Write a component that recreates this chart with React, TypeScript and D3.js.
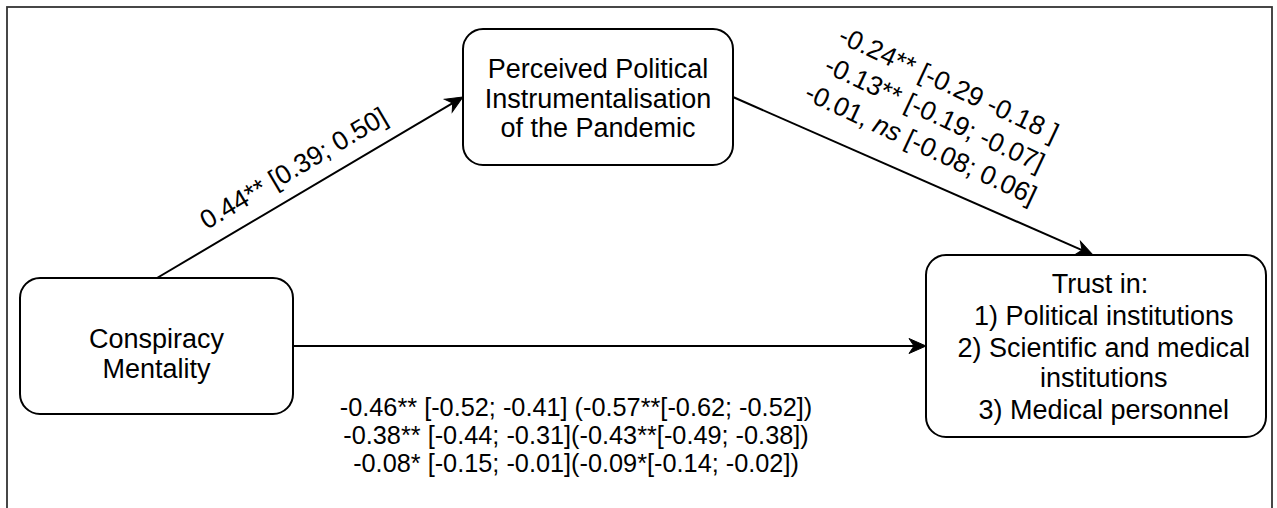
import React from "react";
import * as d3 from "d3";

// ---- Data (text content of the path diagram) ----
const predictorLines = ["Conspiracy", "Mentality"];
const mediatorLines = ["Perceived Political", "Instrumentalisation", "of the Pandemic"];
const outcomeLines = [
  "Trust in:",
  " 1) Political institutions",
  " 2) Scientific and medical",
  " institutions",
  " 3) Medical personnel",
];
const pathALabel = "0.44** [0.39; 0.50]";
type Seg = { t: string; i?: boolean };
const pathBLabels: Seg[][] = [
  [{ t: "-0.24** [-0.29 -0.18 ]" }],
  [{ t: "-0.13** [-0.19; -0.07]" }],
  [{ t: "-0.01, " }, { t: "ns", i: true }, { t: " [-0.08; 0.06]" }],
];
const pathCLabels = [
  "-0.46** [-0.52; -0.41] (-0.57**[-0.62; -0.52])",
  "-0.38** [-0.44; -0.31](-0.43**[-0.49; -0.38])",
  "-0.08* [-0.15; -0.01](-0.09*[-0.14; -0.02])",
];

const FONT = "'Liberation Sans', Arial, Helvetica, sans-serif";

type Box = { x: number; y: number; w: number; h: number };
const predictorBox: Box = { x: 20, y: 278, w: 273, h: 136 };
const mediatorBox: Box = { x: 463, y: 29, w: 270, h: 136 };
const outcomeBox: Box = { x: 926, y: 255, w: 340, h: 182 };

const lineGen = d3.line<[number, number]>();

function Arrow({ x1, y1, x2, y2 }: { x1: number; y1: number; x2: number; y2: number }) {
  const ang = Math.atan2(y2 - y1, x2 - x1);
  const L = 17, W = 7.5, N = 5;
  const ux = Math.cos(ang), uy = Math.sin(ang);
  const ex = x2 - (L - N) * ux, ey = y2 - (L - N) * uy;
  const head: [number, number][] = [
    [0, 0],
    [-L, -W],
    [-L + N, 0],
    [-L, W],
  ];
  const deg = (ang * 180) / Math.PI;
  return (
    <g>
      <path d={lineGen([[x1, y1], [ex, ey]]) || ""} stroke="#000" strokeWidth={2} fill="none" />
      <path
        d={(lineGen(head) || "") + "Z"}
        transform={`translate(${x2},${y2}) rotate(${deg})`}
        fill="#000"
        stroke="#000"
        strokeWidth={1}
        strokeLinejoin="miter"
      />
    </g>
  );
}

function BoxNode({ b, lines, cx, baselines }: { b: Box; lines: string[]; cx: number; baselines: number[] }) {
  return (
    <g>
      <rect x={b.x} y={b.y} width={b.w} height={b.h} rx={20} ry={20} fill="#fff" stroke="#000" strokeWidth={2} />
      {lines.map((l, i) => (
        <text
          key={i}
          x={cx}
          y={baselines[i]}
          textAnchor="middle"
          fontFamily={FONT}
          fontSize={27}
          fill="#000"
          style={{ whiteSpace: "pre" }}
        >
          {l}
        </text>
      ))}
    </g>
  );
}

export default function App() {
  const W = 1277, H = 508;
  const midY = (b: Box) => b.y + b.h / 2;

  const aStart: [number, number] = [157, predictorBox.y];
  const aEnd: [number, number] = [mediatorBox.x, midY(mediatorBox)];
  const aAng = (Math.atan2(aEnd[1] - aStart[1], aEnd[0] - aStart[0]) * 180) / Math.PI;

  const bStart: [number, number] = [mediatorBox.x + mediatorBox.w, midY(mediatorBox)];
  const bEnd: [number, number] = [1093, outcomeBox.y];

  return (
    <svg
      width={W}
      height={H}
      viewBox={`0 0 ${W} ${H}`}
      style={{ position: "absolute", left: 0, top: 0, background: "#fff" }}
    >
      <rect x={0} y={0} width={W} height={H} fill="#fff" />
      <rect x={7} y={7} width={1265} height={540} fill="none" stroke="#333" strokeWidth={1.8} />

      <Arrow x1={aStart[0]} y1={aStart[1]} x2={aEnd[0]} y2={aEnd[1]} />
      <Arrow x1={bStart[0]} y1={bStart[1]} x2={bEnd[0]} y2={bEnd[1]} />
      <Arrow
        x1={predictorBox.x + predictorBox.w}
        y1={midY(predictorBox)}
        x2={outcomeBox.x}
        y2={midY(outcomeBox)}
      />

      <BoxNode b={predictorBox} lines={predictorLines} cx={156.5} baselines={[348, 378]} />
      <BoxNode b={mediatorBox} lines={mediatorLines} cx={598} baselines={[78, 108, 137]} />
      <BoxNode b={outcomeBox} lines={outcomeLines} cx={1100} baselines={[293, 325, 357, 387, 419]} />

      {/* path a label */}
      <text
        transform={`translate(298,176) rotate(${aAng})`}
        textAnchor="middle"
        fontFamily={FONT}
        fontSize={26.5}
        fill="#000"
      >
        {pathALabel}
      </text>

      {/* path b labels */}
      <g transform="translate(931,122) rotate(25)">
        {pathBLabels.map((segs, i) => (
          <text
            key={i}
            x={0}
            y={(i - 1) * 33}
            textAnchor="middle"
            fontFamily={FONT}
            fontSize={26.5}
            fill="#000"
            style={{ whiteSpace: "pre" }}
          >
            {segs.map((s, j) => (
              <tspan key={j} fontStyle={s.i ? "italic" : "normal"}>
                {s.t}
              </tspan>
            ))}
          </text>
        ))}
      </g>

      {/* path c labels */}
      {pathCLabels.map((l, i) => (
        <text
          key={i}
          x={576}
          y={416 + i * 28}
          textAnchor="middle"
          fontFamily={FONT}
          fontSize={25.3}
          fill="#000"
        >
          {l}
        </text>
      ))}
    </svg>
  );
}
